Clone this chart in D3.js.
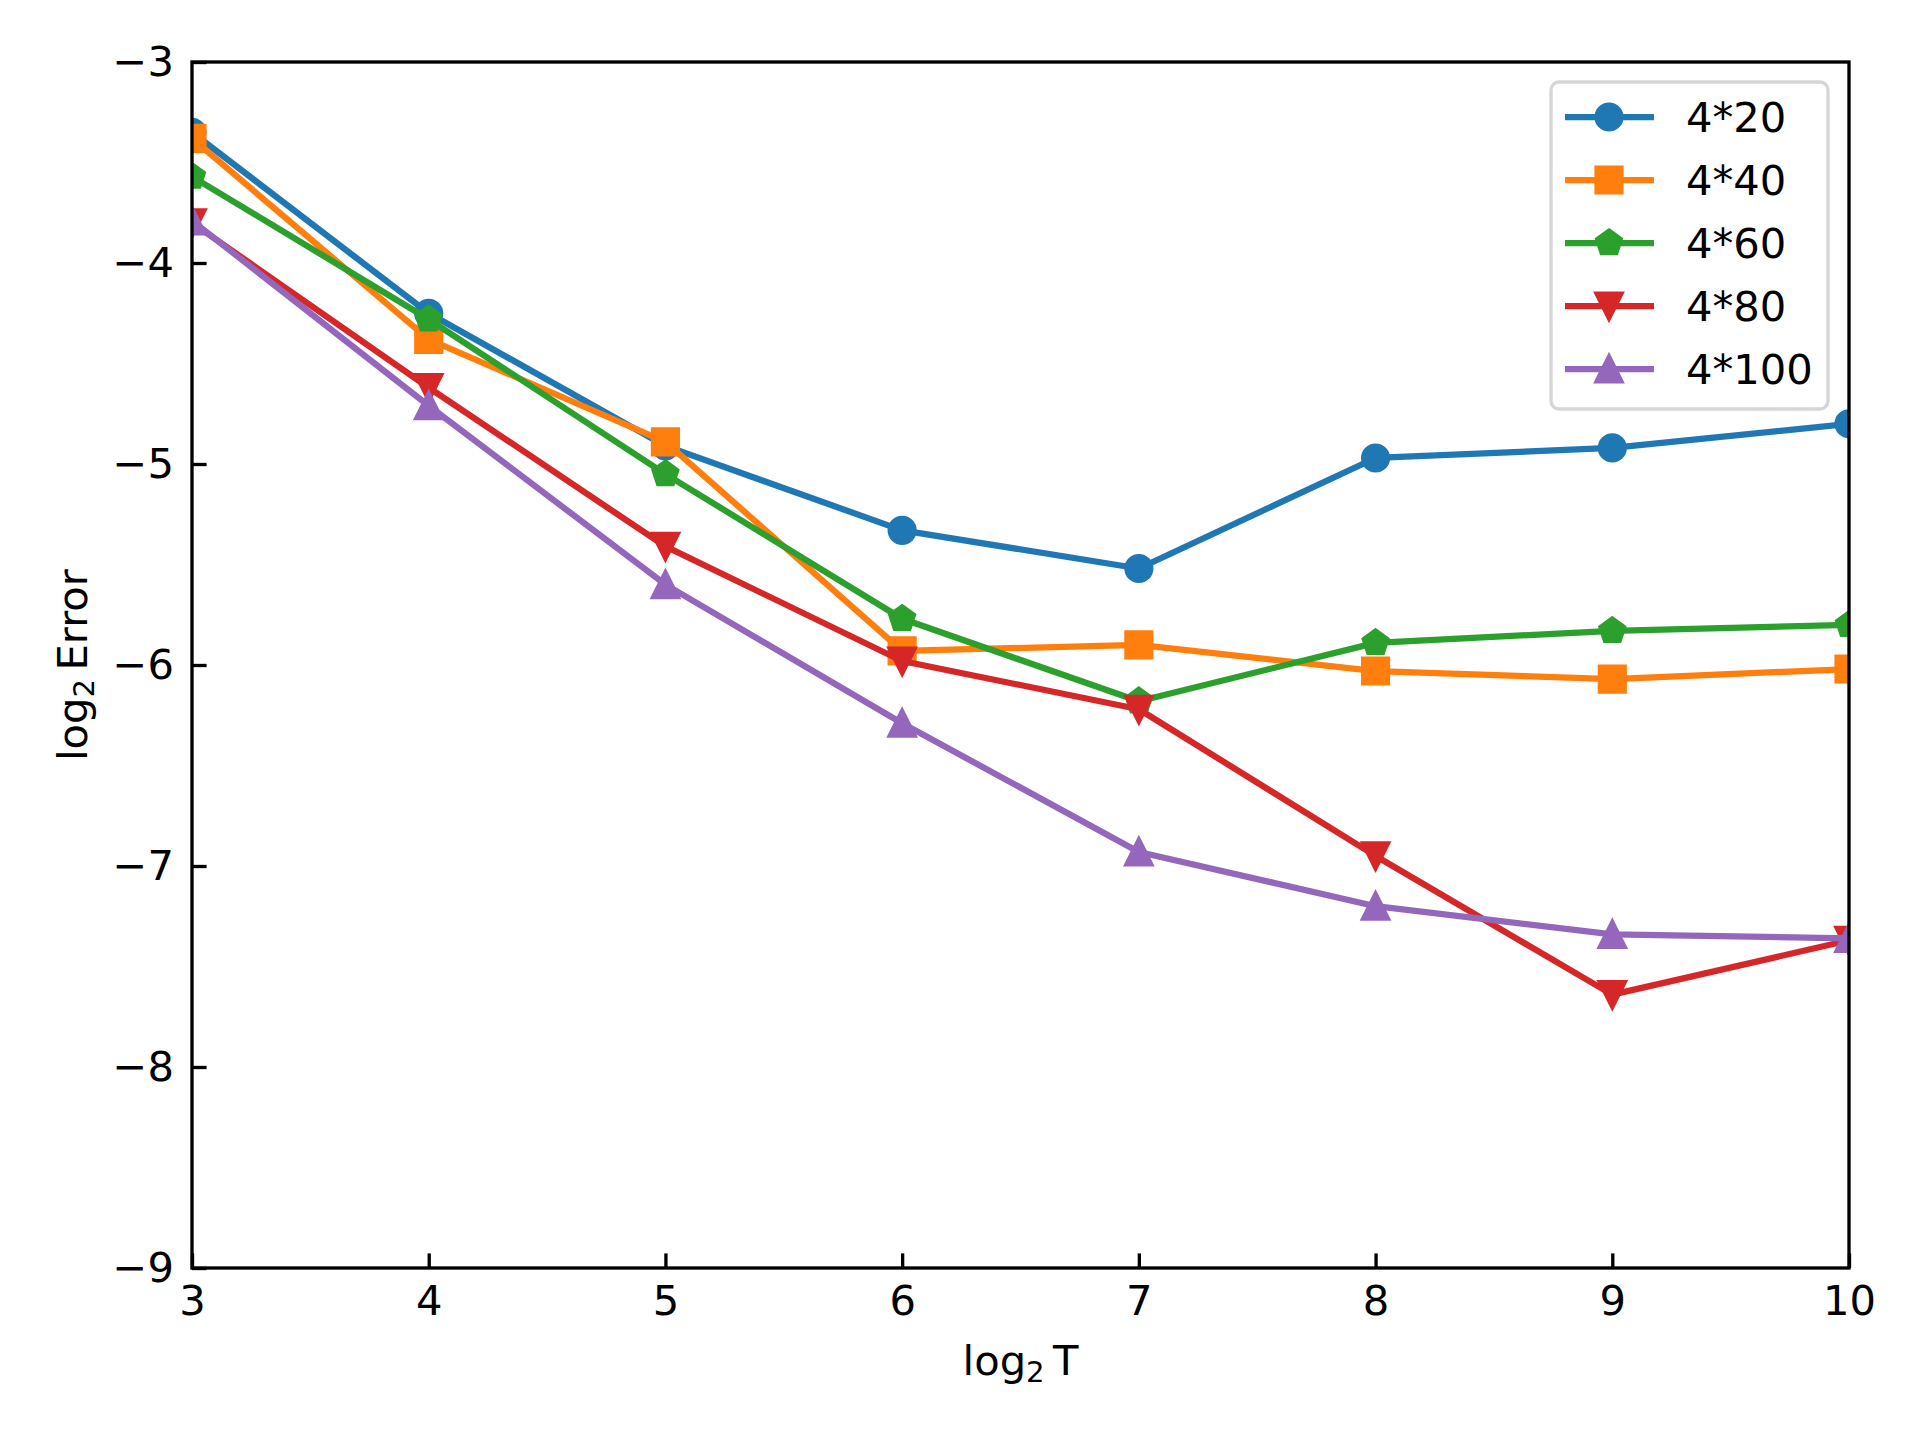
<!DOCTYPE html>
<html>
<head>
<meta charset="utf-8">
<script src="https://cdn.jsdelivr.net/npm/d3@7"></script>
<style>
  html, body { margin: 0; padding: 0; background: #fff; }
  svg { display: block; }
  text { font-family: "DejaVu Sans", sans-serif; }
</style>
</head>
<body>
<svg id="chart" width="1920" height="1440"></svg>
<script>
// ---- data ----
const xValues = [3, 4, 5, 6, 7, 8, 9, 10];
const seriesNames = ["4*20", "4*40", "4*60", "4*80", "4*100"];
const err4x20  = [-3.35, -4.25, -4.91, -5.33, -5.52, -4.97, -4.92, -4.80];
const err4x40  = [-3.38, -4.38, -4.89, -5.93, -5.90, -6.03, -6.07, -6.02];
const err4x60  = [-3.57, -4.28, -5.05, -5.77, -6.18, -5.89, -5.83, -5.80];
const err4x80  = [-3.80, -4.62, -5.41, -5.98, -6.22, -6.95, -7.64, -7.37];
const err4x100 = [-3.79, -4.71, -5.60, -6.29, -6.93, -7.20, -7.34, -7.36];
const xTicks = [3, 4, 5, 6, 7, 8, 9, 10];
const yTicks = [-9, -8, -7, -6, -5, -4, -3];

// ---- styling ----
const colors = ["#1f77b4", "#ff7f0e", "#2ca02c", "#d62728", "#9467bd"];
const markers = ["circle", "square", "pentagon", "triangleDown", "triangleUp"];
const allSeries = [err4x20, err4x40, err4x60, err4x80, err4x100];

const L = 192, R = 1849, T = 62, B = 1268;
const FS = 41.67;
const LW = 6.25, MEW = 4.17, SPW = 3.33, TICKLEN = 14.6;
const MR = 12.5;

const svg = d3.select("#chart");
const x = d3.scaleLinear().domain([3, 10]).range([L, R]);
const y = d3.scaleLinear().domain([-9, -3]).range([B, T]);

function markerPath(type, r) {
  if (type === "circle") {
    return `M${r},0A${r},${r} 0 1,1 ${-r},0A${r},${r} 0 1,1 ${r},0Z`;
  }
  if (type === "square") {
    return `M${-r},${-r}L${r},${-r}L${r},${r}L${-r},${r}Z`;
  }
  if (type === "pentagon") {
    const pts = d3.range(5).map(k => {
      const a = -Math.PI / 2 + k * 2 * Math.PI / 5;
      return [r * Math.cos(a), r * Math.sin(a)];
    });
    return "M" + pts.map(p => p.join(",")).join("L") + "Z";
  }
  if (type === "triangleDown") {
    return `M0,${r}L${-r},${-r}L${r},${-r}Z`;
  }
  if (type === "triangleUp") {
    return `M0,${-r}L${-r},${r}L${r},${r}Z`;
  }
}

// clip
svg.append("defs").append("clipPath").attr("id", "clip")
  .append("rect").attr("x", L).attr("y", T).attr("width", R - L).attr("height", B - T);

// background
svg.append("rect").attr("width", 1920).attr("height", 1440).attr("fill", "#fff");

// data
const plot = svg.append("g").attr("clip-path", "url(#clip)");
const line = d3.line().x((d, i) => x(xValues[i])).y(d => y(d));
allSeries.forEach((vals, si) => {
  const g = plot.append("g");
  g.append("path").datum(vals)
    .attr("d", line)
    .attr("fill", "none")
    .attr("stroke", colors[si])
    .attr("stroke-width", LW)
    .attr("stroke-linejoin", "round")
    .attr("stroke-linecap", "square");
  g.selectAll("path.m").data(vals).join("path")
    .attr("class", "m")
    .attr("d", markerPath(markers[si], MR))
    .attr("transform", (d, i) => `translate(${x(xValues[i])},${y(d)})`)
    .attr("fill", colors[si])
    .attr("stroke", colors[si])
    .attr("stroke-width", MEW)
    .attr("stroke-linejoin", "miter");
});

// axes
const xAxis = d3.axisBottom(x).tickValues(xTicks).tickSizeInner(-TICKLEN).tickSizeOuter(0)
  .tickPadding(17).tickFormat(d3.format("d"));
const gx = svg.append("g").attr("transform", `translate(0,${B})`).call(xAxis);
const yAxis = d3.axisLeft(y).tickValues(yTicks).tickSizeInner(-TICKLEN).tickSizeOuter(0)
  .tickPadding(18).tickFormat(d3.format("d"));
const gy = svg.append("g").attr("transform", `translate(${L},0)`).call(yAxis);
[gx, gy].forEach(g => {
  g.select(".domain").remove();
  g.selectAll(".tick line").attr("stroke", "#000").attr("stroke-width", SPW);
  g.selectAll(".tick text").attr("fill", "#000").style("font-size", FS + "px")
    .style("font-family", "'DejaVu Sans', sans-serif");
});

// spines
svg.append("rect").attr("x", L).attr("y", T).attr("width", R - L).attr("height", B - T)
  .attr("fill", "none").attr("stroke", "#000").attr("stroke-width", SPW)
  .attr("stroke-linejoin", "miter");

// axis labels
function mathLabel(sel, main) {
  sel.append("tspan").text("log");
  sel.append("tspan").text("2").style("font-size", (FS * 0.7) + "px").attr("dy", 7);
  sel.append("tspan").text("\u2009" + main).attr("dy", -7);
}
const xl = svg.append("text").attr("x", (L + R) / 2).attr("y", 1375)
  .attr("text-anchor", "middle").style("font-size", FS + "px").attr("fill", "#000");
mathLabel(xl, "T");
const yl = svg.append("text").attr("transform", `translate(87,${(T + B) / 2}) rotate(-90)`)
  .attr("text-anchor", "middle").style("font-size", FS + "px").attr("fill", "#000");
mathLabel(yl, "Error");

// legend
const lg = svg.append("g");
lg.append("rect").attr("x", 1551).attr("y", 82).attr("width", 277).attr("height", 327)
  .attr("rx", 8).attr("ry", 8)
  .attr("fill", "#fff").attr("fill-opacity", 0.8)
  .attr("stroke", "#d6d6d6").attr("stroke-width", SPW);
const rowY = [117, 180, 243, 306, 369];
seriesNames.forEach((name, i) => {
  const g = lg.append("g").attr("transform", `translate(0,${rowY[i]})`);
  g.append("line").attr("x1", 1565).attr("x2", 1654).attr("y1", 0).attr("y2", 0)
    .attr("stroke", colors[i]).attr("stroke-width", LW);
  g.append("path").attr("d", markerPath(markers[i], MR))
    .attr("transform", "translate(1609,0)")
    .attr("fill", colors[i]).attr("stroke", colors[i]).attr("stroke-width", MEW);
  g.append("text").attr("x", 1686).attr("y", 15).text(name)
    .style("font-size", FS + "px").attr("fill", "#000");
});
</script>
</body>
</html>
